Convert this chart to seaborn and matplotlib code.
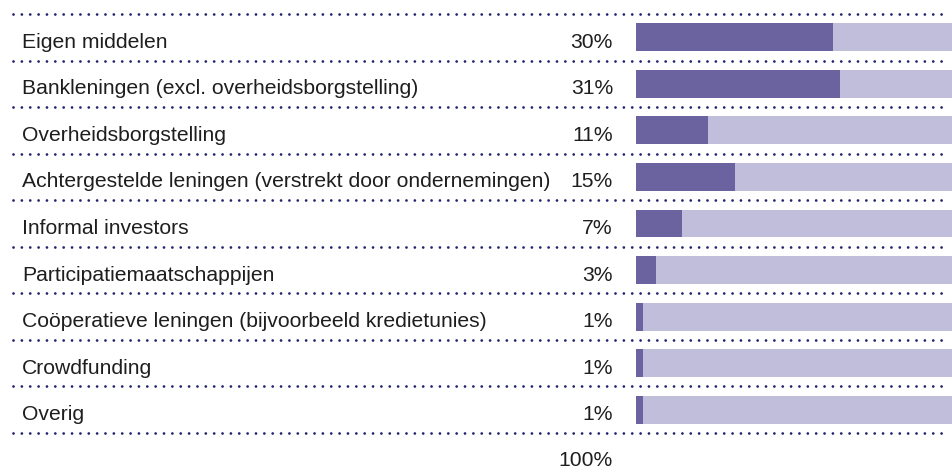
import matplotlib
matplotlib.use("Agg")
import matplotlib.pyplot as plt
import matplotlib.transforms as mtransforms
import seaborn as sns
import pandas as pd

categories = [
    "Eigen middelen",
    "Bankleningen (excl. overheidsborgstelling)",
    "Overheidsborgstelling",
    "Achtergestelde leningen (verstrekt door ondernemingen)",
    "Informal investors",
    "Participatiemaatschappijen",
    "Coöperatieve leningen (bijvoorbeeld kredietunies)",
    "Crowdfunding",
    "Overig",
]
values = [30, 31, 11, 15, 7, 3, 1, 1, 1]
value_labels = ["30%", "31%", "11%", "15%", "7%", "3%", "1%", "1%", "1%"]
total_label = "100%"

sns.set_theme(style="white")
plt.rcParams["font.family"] = ["Liberation Sans", "DejaVu Sans"]

W, H = 953, 469
fig = plt.figure(figsize=(W / 100, H / 100), dpi=100)
fig.patch.set_facecolor("white")

top_px, bot_px = 14, 433
left_px, right_px = 636, 953
ax = fig.add_axes([left_px / W, 1 - bot_px / H, (right_px - left_px) / W, (bot_px - top_px) / H])

xmax = 48.2
df = pd.DataFrame({"cat": categories, "val": values, "track": [xmax] * len(categories)})

sns.barplot(data=df, x="track", y="cat", orient="h", color="#c1bedb", width=0.6,
            saturation=1, ax=ax, order=categories, linewidth=0)
sns.barplot(data=df, x="val", y="cat", orient="h", color="#6a63a0", width=0.6,
            saturation=1, ax=ax, order=categories, linewidth=0)

n = len(categories)
ax.set_xlim(0, xmax)
ax.set_ylim(n - 0.5, -0.5)
ax.axis("off")

trans = mtransforms.blended_transform_factory(fig.transFigure, ax.transData)
pitch = (bot_px - top_px) / n
off = 10.5 / pitch

# dotted separators
for i in range(n + 1):
    y = i - 0.5
    ax.plot([13 / W, 949 / W], [y, y], transform=trans, clip_on=False,
            color="#23226e", lw=2.0, linestyle=(0, (0.01, 3.0)),
            dash_capstyle="round", solid_capstyle="round")

fs = 15.2
for i, (cat, lab) in enumerate(zip(categories, value_labels)):
    ax.text(22 / W, i + off, cat, transform=trans, ha="left", va="baseline",
            fontsize=fs, color="#1e1e1e")
    ax.text(613 / W, i + off, lab, transform=trans, ha="right", va="baseline",
            fontsize=fs, color="#1e1e1e")

ax.text(613 / W, n - 0.5 + (466 - bot_px) / pitch, total_label,
        transform=trans, ha="right", va="baseline", fontsize=fs, color="#1e1e1e")

fig.savefig("out.png", dpi=100, facecolor="white")
